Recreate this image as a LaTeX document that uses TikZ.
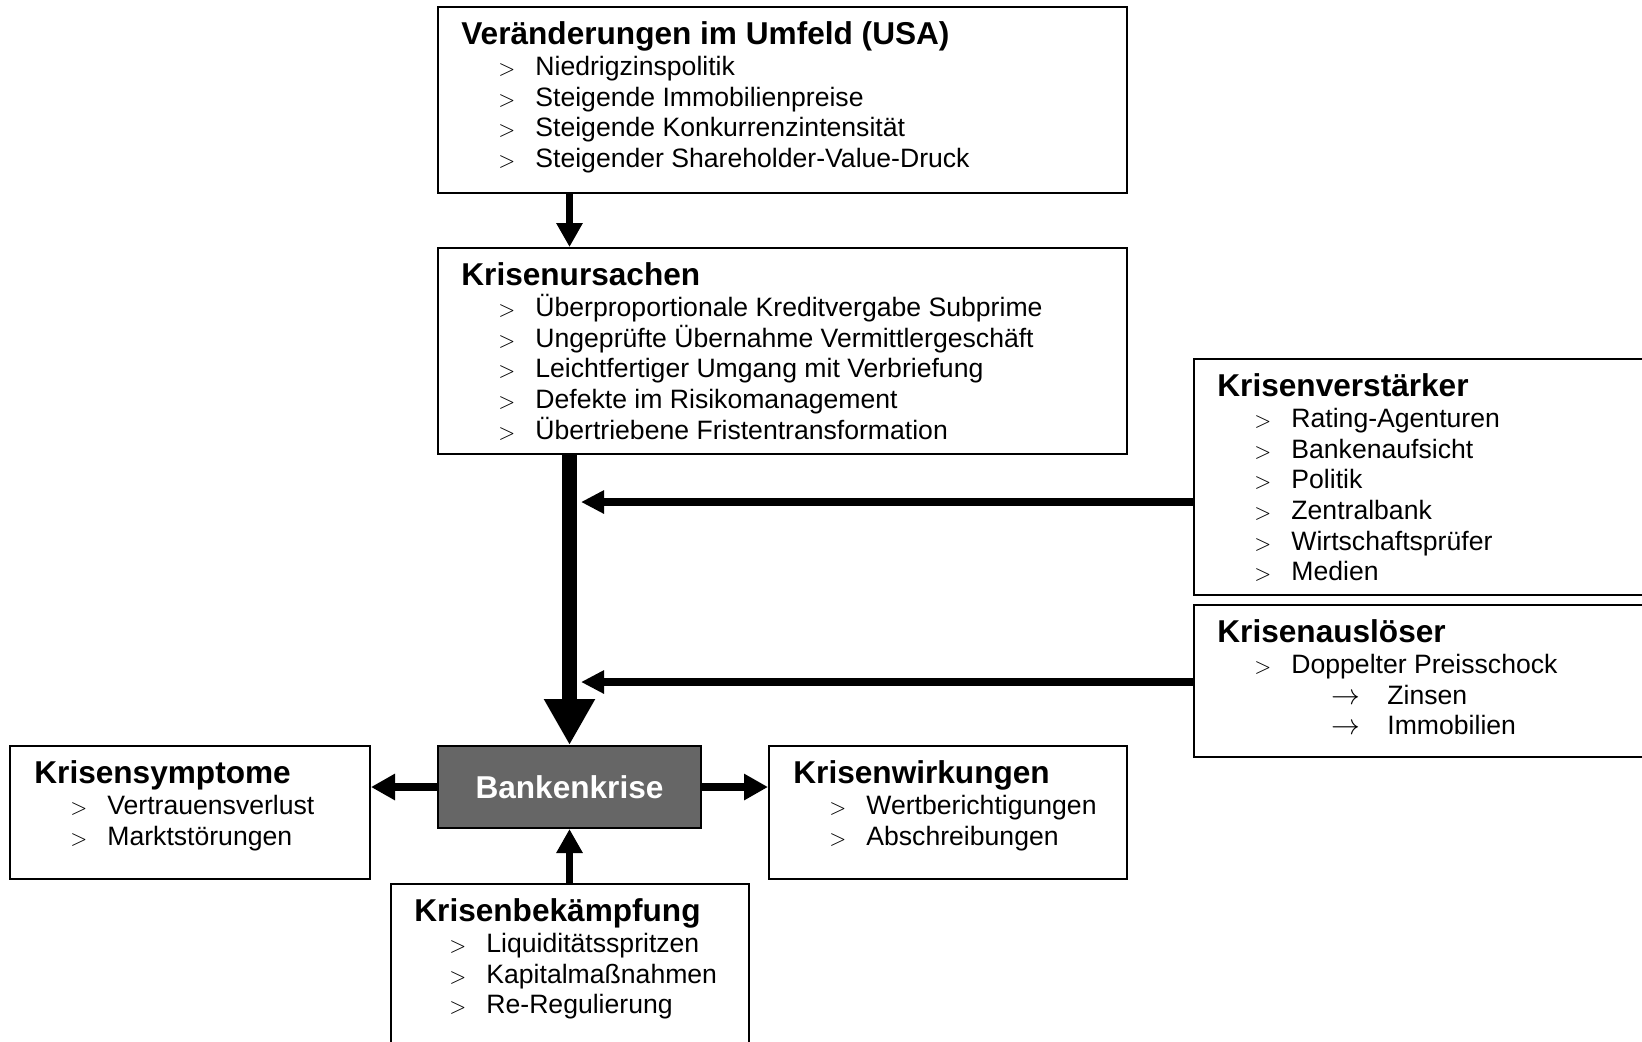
\documentclass[tikz,border=0pt]{standalone}
\usepackage{fontspec}
\setmainfont{Liberation Sans}
\usetikzlibrary{arrows.meta}

\definecolor{krisegrau}{RGB}{102,102,102}

\tikzset{
    panel/.style={draw=black, line width=1pt, anchor=north west, inner sep=0pt},
    titel/.style={font=\fontsize{15.8}{18}\selectfont\bfseries, anchor=base west, inner sep=0pt},
    punkt/.style={font=\fontsize{13.3}{15.35}\selectfont, anchor=base west, inner sep=0pt},
    pfeil/.style={line width=4pt, -{Triangle[length=12pt,width=12.5pt]}},
    zufluss/.style={line width=3.9pt, -{Triangle[length=11.5pt,width=11pt]}},
    hauptpfeil/.style={line width=7.5pt, -{Triangle[length=23pt,width=24pt]}}
}

\newcommand{\bul}{\makebox[18.5pt][l]{\fontsize{10.5}{12}\selectfont$>$}}
\newcommand{\sub}{\hspace{37.7pt}\makebox[27.8pt][l]{$\rightarrow$}}

\begin{document}
\begin{tikzpicture}[x=0.5pt, y=-0.5pt]
    \useasboundingbox (0,0) rectangle (1642,1041);
    \clip (0,0) rectangle (1642,1041);

    % boxes
    \node[panel, minimum width=344.5pt, minimum height=93pt]  (umfeld)      at (437,6)   {};
    \node[panel, minimum width=344.5pt, minimum height=103pt] (ursachen)    at (437,247) {};
    \node[panel, minimum width=240pt,   minimum height=118pt] (verstaerker) at (1193,358) {};
    \node[panel, minimum width=240pt,   minimum height=76pt]  (ausloeser)   at (1193,604) {};
    \node[panel, minimum width=180pt,   minimum height=66.5pt] (symptome)   at (9,745)   {};
    \node[panel, minimum width=179pt,   minimum height=66.5pt] (wirkungen)  at (768,745) {};
    \node[panel, minimum width=179pt,   minimum height=95pt]  (bekaempfung) at (390,883) {};
    \node[panel, fill=krisegrau, text=white, minimum width=131.5pt, minimum height=41pt,
          font=\fontsize{15.8}{18}\selectfont\bfseries] (krise) at (437,745) {Bankenkrise};

    % titles
    \node[titel] (umfeld-titel)      at ([shift={(12pt,-19.4pt)}]umfeld.north west)      {Veränderungen im Umfeld (USA)};
    \node[titel] (ursachen-titel)    at ([shift={(12pt,-19.4pt)}]ursachen.north west)    {Krisenursachen};
    \node[titel] (verstaerker-titel) at ([shift={(12pt,-19.4pt)}]verstaerker.north west) {Krisenverstärker};
    \node[titel] (ausloeser-titel)   at ([shift={(12pt,-19.4pt)}]ausloeser.north west)   {Krisenauslöser};
    \node[titel] (symptome-titel)    at ([shift={(12.5pt,-19.4pt)}]symptome.north west)  {Krisensymptome};
    \node[titel] (wirkungen-titel)   at ([shift={(12.5pt,-19.4pt)}]wirkungen.north west) {Krisenwirkungen};
    \node[titel] (bekaempfung-titel) at ([shift={(12pt,-19.4pt)}]bekaempfung.north west) {Krisenbekämpfung};

    % items
    \foreach \txt [count=\i] in {Niedrigzinspolitik, Steigende Immobilienpreise,
            Steigende Konkurrenzintensität, Steigender Shareholder-Value-Druck}
        \node[punkt] (umfeld-\i) at ([shift={(30.5pt,{-34.8pt-(\i-1)*15.33pt})}]umfeld.north west) {\bul\txt};

    \foreach \txt [count=\i] in {Überproportionale Kreditvergabe Subprime, Ungeprüfte Übernahme Vermittlergeschäft,
            Leichtfertiger Umgang mit Verbriefung, Defekte im Risikomanagement, Übertriebene Fristentransformation}
        \node[punkt] (ursachen-\i) at ([shift={(30.5pt,{-34.8pt-(\i-1)*15.33pt})}]ursachen.north west) {\bul\txt};

    \foreach \txt [count=\i] in {Rating-Agenturen, Bankenaufsicht, Politik, Zentralbank, Wirtschaftsprüfer, Medien}
        \node[punkt] (verstaerker-\i) at ([shift={(30.5pt,{-34.8pt-(\i-1)*15.33pt})}]verstaerker.north west) {\bul\txt};

    \node[punkt] (ausloeser-1) at ([shift={(30.5pt,-34.8pt)}]ausloeser.north west) {\bul Doppelter Preisschock};
    \node[punkt] (ausloeser-2) at ([shift={(31.5pt,-50.13pt)}]ausloeser.north west) {\sub Zinsen};
    \node[punkt] (ausloeser-3) at ([shift={(31.5pt,-65.46pt)}]ausloeser.north west) {\sub Immobilien};

    \foreach \txt [count=\i] in {Vertrauensverlust, Marktstörungen}
        \node[punkt] (symptome-\i) at ([shift={(30.5pt,{-34.8pt-(\i-1)*15.33pt})}]symptome.north west) {\bul\txt};

    \foreach \txt [count=\i] in {Wertberichtigungen, Abschreibungen}
        \node[punkt] (wirkungen-\i) at ([shift={(30.5pt,{-34.8pt-(\i-1)*15.33pt})}]wirkungen.north west) {\bul\txt};

    \foreach \txt [count=\i] in {Liquiditätsspritzen, Kapitalmaßnahmen, Re-Regulierung}
        \node[punkt] (bekaempfung-\i) at ([shift={(29.5pt,{-34.8pt-(\i-1)*15.33pt})}]bekaempfung.north west) {\bul\txt};

    % arrows
    \coordinate (treffer1) at (581,502);
    \coordinate (treffer2) at (581,682);

    \draw[pfeil, line width=3.5pt] (umfeld.south -| krise.north) -- (ursachen.north -| krise.north);
    \draw[hauptpfeil] (ursachen.south -| krise.north) -- (krise.north);
    \draw[zufluss] (treffer1 -| verstaerker.west) -- (treffer1);
    \draw[zufluss] (treffer2 -| ausloeser.west) -- (treffer2);
    \draw[pfeil] (krise.west) -- (krise.west -| symptome.east);
    \draw[pfeil] (krise.east) -- (krise.east -| wirkungen.west);
    \draw[pfeil, line width=3.5pt] (bekaempfung.north -| krise.south) -- (krise.south);
\end{tikzpicture}
\end{document}
